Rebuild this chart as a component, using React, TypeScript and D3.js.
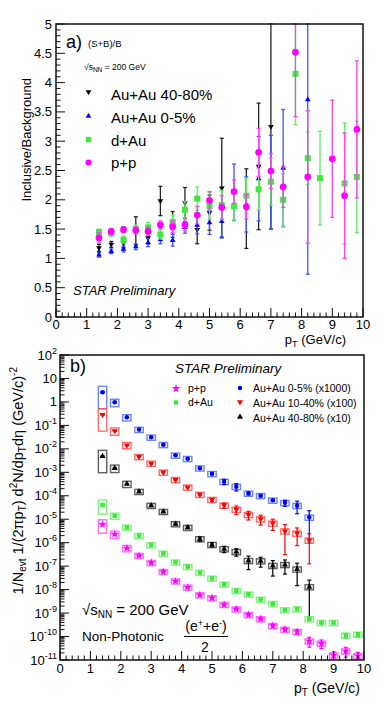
import React from "react";
import * as d3 from "d3";

const FONT = "'Liberation Sans', Arial, Helvetica, sans-serif";

// ---------- panel a) inclusive / background ----------
const ptA = [1.4, 1.8, 2.2, 2.6, 3.0, 3.4, 3.8, 4.2, 4.6, 5.0, 5.4, 5.8, 6.2, 6.6, 7.0, 7.4, 7.8, 8.2, 8.6, 9.0, 9.4, 9.8];

const ratioAuAu4080 = [1.18, 1.24, 1.26, 1.47, 1.35, 1.98, 1.58, 1.95, 1.49, 1.78, 2.2, null, 1.85, 2.57, 3.25, null, null, null, null, null, null, null];
const errAuAu4080 = [0.06, 0.05, 0.08, 0.24, 0.1, 0.25, 0.22, 0.26, 0.24, 0.3, 0.85, null, 0.68, 1.08, 1.75, null, null, null, null, null, null, null];

const ratioAuAu05 = [1.06, 1.12, 1.16, 1.2, 1.27, 1.32, 1.31, 1.53, 1.57, 1.61, 1.63, 2.13, 1.92, 2.36, 2.3, 2.54, null, 3.71, null, null, null, null];
const errAuAu05 = [0.04, 0.04, 0.05, 0.05, 0.07, 0.07, 0.1, 0.1, 0.15, 0.2, 0.26, 0.48, 0.47, 0.72, 0.8, 1.0, null, 2.98, null, null, null, null];

const ratioDAu = [1.45, 1.43, 1.32, 1.5, 1.53, 1.41, 1.62, 1.83, 2.02, 1.9, 1.91, 1.89, 2.07, 2.18, 2.31, 2.0, 4.15, 2.71, 2.37, null, 2.28, 2.39];
const errDAu = [0.05, 0.05, 0.06, 0.07, 0.08, 0.08, 0.12, 0.14, 0.2, 0.23, 0.25, 0.25, 0.3, 0.35, 0.4, 0.45, 0.87, 0.45, 0.8, null, 1.03, 0.95];

const ratioPP = [1.35, 1.46, 1.49, 1.48, 1.46, 1.57, 1.54, 1.57, 1.74, 1.99, 1.87, 2.14, 1.88, 2.81, 2.49, 2.22, 4.52, 2.39, null, 2.7, 2.07, 3.2];
const errPP = [0.09, 0.05, 0.05, 0.06, 0.07, 0.07, 0.1, 0.1, 0.15, 0.15, 0.2, 0.2, 0.21, 0.41, 0.3, 0.35, 1.1, 1.13, null, 1.0, 1.07, 1.17];

const yTicksA = [0, 0.5, 1, 1.5, 2, 2.5, 3, 3.5, 4, 4.5, 5];
const xTicks = [0, 1, 2, 3, 4, 5, 6, 7, 8, 9, 10];

// ---------- panel b) non-photonic electron spectra ----------
const ptB = [1.4, 1.8, 2.2, 2.6, 3.0, 3.4, 3.8, 4.2, 4.6, 5.0, 5.4, 5.8, 6.2, 6.6, 7.0, 7.4, 7.8, 8.2, 8.6, 9.0, 9.4, 9.8];

const yieldAuAu05 = [2.57, 0.96, 0.22, 0.066, 0.031, 0.015, 0.0053, 0.0038, 0.0015, 0.00087, 0.0004, 0.000245, 0.000127, 1.0e-4, 6.4e-5, 5.0e-5, 3.8e-5, 1.2e-5];
const statAuAu05 = [0.05, 0.05, 0.05, 0.05, 0.05, 0.05, 0.05, 0.05, 0.1, 0.1, 0.25, 0.35, 0.15, 0.1, 0.1, 0.3, 0.55, 0.92];

const yieldAuAu1040 = [0.285, 0.058, 0.0144, 0.0046, 0.0024, 0.001, 0.00048, 0.00023, 0.000113, 6.8e-5, 3.9e-5, 2.6e-5, 1.55e-5, 1.02e-5, 6.7e-6, 3.1e-6, 2.5e-6, 1.26e-6];
const statAuAu1040 = [0.05, 0.05, 0.05, 0.05, 0.05, 0.05, 0.05, 0.05, 0.1, 0.15, 0.25, 0.4, 0.4, 0.45, 0.5, 0.9, 0.7, 0.9];

const yieldAuAu4080 = [0.0048, 0.0015, 3.2e-4, 1.5e-4, 3.8e-5, 2.1e-5, 6.3e-6, 4.4e-6, 1.44e-6, 8.2e-7, 5.4e-7, 4.1e-7, 1.7e-7, 1.65e-7, 1.05e-7, 1.15e-7, 7.4e-8, 1.3e-8];
const statAuAu4080 = [0.05, 0.05, 0.05, 0.05, 0.05, 0.05, 0.1, 0.1, 0.2, 0.2, 0.3, 0.35, 0.58, 0.45, 0.64, 0.6, 0.8, 0.95];

const yieldDAu = [4.1e-5, 1.4e-5, 4.5e-6, 2.0e-6, 8e-7, 3.5e-7, 1.46e-7, 9.5e-8, 5.3e-8, 3.0e-8, 1.67e-8, 8.9e-9, 6.3e-9, 3.8e-9, 2.5e-9, 1.35e-9, 1.48e-9, 5.6e-10, 3.9e-10, 3.9e-10, 1.12e-10, 1.23e-10];
const statDAu = [0.05, 0.05, 0.05, 0.05, 0.05, 0.05, 0.05, 0.05, 0.05, 0.05, 0.05, 0.05, 0.05, 0.05, 0.05, 0.05, 0.1, 0.1, 0.1, 0.1, 0.2, 0.2];

const yieldPP = [6.0e-6, 2.3e-6, 5.8e-7, 2.8e-7, 1.4e-7, 5.8e-8, 2.3e-8, 1.25e-8, 5.9e-9, 4.4e-9, 2.3e-9, 1.47e-9, 8.5e-10, 5.6e-10, 2.9e-10, 2.0e-10, 1.6e-10, 6.4e-11, 5.1e-11, 1.6e-11, 2.4e-11, 1.5e-11];
const statPP = [0.05, 0.05, 0.05, 0.05, 0.05, 0.05, 0.05, 0.05, 0.05, 0.05, 0.1, 0.1, 0.1, 0.1, 0.15, 0.15, 0.2, 0.45, 0.4, 0.4, 0.45, 0.4];

// relative systematic uncertainty (boxes)
const sysAuAu = [0.8, 0.35, 0.3, 0.25, 0.25, 0.25, 0.25, 0.25, 0.25, 0.25, 0.25, 0.25, 0.25, 0.25, 0.25, 0.25, 0.25, 0.25];
const sysDAu = [0.6, 0.3, 0.25, 0.25, 0.25, 0.25, 0.25, 0.25, 0.25, 0.25, 0.25, 0.25, 0.25, 0.25, 0.25, 0.25, 0.25, 0.25, 0.25, 0.25, 0.25, 0.25];
const sysPP = [0.58, 0.35, 0.3, 0.25, 0.25, 0.25, 0.25, 0.25, 0.25, 0.25, 0.25, 0.25, 0.25, 0.25, 0.25, 0.25, 0.25, 0.25, 0.25, 0.25, 0.25, 0.25];

const decadesB = [2, 1, 0, -1, -2, -3, -4, -5, -6, -7, -8, -9, -10, -11];

const xA = d3.scaleLinear().domain([0, 10]).range([56, 363]);
const yA = d3.scaleLinear().domain([0, 5]).range([317, 24]);
const xB = d3.scaleLinear().domain([0, 10]).range([60, 364]);
const yB = d3.scaleLog().domain([1e-11, 1e2]).range([660, 355]);

const sym = (type: d3.SymbolType, size: number) => d3.symbol().type(type).size(size)() as string;

const BLACK = "#000000";
const BLUE = "#0000ff";
const RED = "#ff0000";
const GREEN = "#3ee83e";
const MAGENTA = "#ff00ff";

function Marker({ shape, x, y, color, s }: any) {
  if (shape === "circle") return <circle cx={x} cy={y} r={Math.sqrt(s / Math.PI)} fill={color} />;
  if (shape === "square") {
    const h = Math.sqrt(s) / 2;
    return <rect x={x - h} y={y - h} width={2 * h} height={2 * h} fill={color} />;
  }
  if (shape === "star") return <path d={sym(d3.symbolStar, s)} transform={`translate(${x},${y})`} fill={color} />;
  const rot = shape === "down" ? 180 : 0;
  return <path d={sym(d3.symbolTriangle, s)} transform={`translate(${x},${y}) rotate(${rot})`} fill={color} />;
}

function ErrBar({ x, y1, y2, color, cap = 2, w = 1.3 }: any) {
  return (
    <g stroke={color} strokeWidth={w}>
      <line x1={x} x2={x} y1={y1} y2={y2} />
      <line x1={x - cap} x2={x + cap} y1={y1} y2={y1} />
      <line x1={x - cap} x2={x + cap} y1={y2} y2={y2} />
    </g>
  );
}

function AxisTicksX({ x, yBase }: any) {
  const minor = d3.range(0, 10.001, 0.2);
  return (
    <g stroke="#111" strokeWidth={1}>
      {minor.map((v, i) => {
        const major = Math.abs(v - Math.round(v)) < 1e-6;
        return <line key={i} x1={x(v)} x2={x(v)} y1={yBase} y2={yBase - (major ? 9 : 4.5)} />;
      })}
    </g>
  );
}

export default function App() {
  const seriesA = [
    { vals: ratioAuAu4080, errs: errAuAu4080, color: BLACK, bar: "#222", shape: "down", s: 14 },
    { vals: ratioAuAu05, errs: errAuAu05, color: BLUE, bar: "#3a55ff", shape: "up", s: 14 },
    { vals: ratioDAu, errs: errDAu, color: GREEN, bar: "#5fee5f", shape: "square", s: 36 },
    { vals: ratioPP, errs: errPP, color: MAGENTA, bar: "#ff3cff", shape: "circle", s: 36 },
  ];

  const seriesB = [
    { vals: yieldAuAu05, stat: statAuAu05, sys: sysAuAu, color: BLUE, box: "#5070ff", shape: "circle", s: 16 },
    { vals: yieldAuAu1040, stat: statAuAu1040, sys: sysAuAu, color: RED, box: "#ff5050", shape: "down", s: 16 },
    { vals: yieldAuAu4080, stat: statAuAu4080, sys: sysAuAu, color: BLACK, box: "#444", shape: "up", s: 16 },
    { vals: yieldDAu, stat: statDAu, sys: sysDAu, color: GREEN, box: "#6cf06c", shape: "square", s: 20 },
    { vals: yieldPP, stat: statPP, sys: sysPP, color: MAGENTA, box: "#ff55ff", shape: "star", s: 22 },
  ];

  const yMinorA = d3.range(0, 5.0001, 0.1);

  const logTicks: { v: number; major: boolean }[] = [];
  for (let k = -11; k <= 2; k++) {
    logTicks.push({ v: Math.pow(10, k), major: true });
    if (k < 2) for (let m = 2; m <= 9; m++) logTicks.push({ v: m * Math.pow(10, k), major: false });
  }

  return (
    <svg width={382} height={701} style={{ position: "absolute", left: 0, top: 0, display: "block" }} fontFamily={FONT}>
      <rect width={382} height={701} fill="#fff" />
      <defs>
        <clipPath id="clipA">
          <rect x={56} y={23} width={307} height={294} />
        </clipPath>
        <clipPath id="clipB">
          <rect x={60} y={355} width={304} height={305} />
        </clipPath>
      </defs>

      {/* ================= panel a ================= */}
      <g clipPath="url(#clipA)">
        {seriesA.map((s, si) => (
          <g key={si}>
            {ptA.map((p, i) => {
              const v = s.vals[i];
              const e = s.errs[i];
              if (v == null || e == null) return null;
              const lo = Math.max(0, v - e);
              const hi = Math.min(5, v + e);
              return (
                <g key={i}>
                  <ErrBar x={xA(p)} y1={yA(lo)} y2={yA(hi)} color={s.bar} />
                  <Marker shape={s.shape} x={xA(p)} y={yA(v)} color={s.color} s={s.s} />
                </g>
              );
            })}
          </g>
        ))}
      </g>

      <rect x={56} y={24} width={307} height={293} fill="none" stroke="#111" strokeWidth={1.5} />
      <AxisTicksX x={xA} yBase={317} />
      <g stroke="#111" strokeWidth={1}>
        {yMinorA.map((v, i) => {
          const major = Math.abs(v * 2 - Math.round(v * 2)) < 1e-6;
          return <line key={i} x1={56} x2={56 + (major ? 9 : 4.5)} y1={yA(v)} y2={yA(v)} />;
        })}
      </g>
      <g fontSize={13} fill="#000">
        {yTicksA.map((v) => (
          <text key={v} x={52} y={yA(v) + 4.5} textAnchor="end">{String(v)}</text>
        ))}
        {xTicks.map((v) => (
          <text key={v} x={xA(v)} y={329} textAnchor="middle">{v}</text>
        ))}
      </g>
      <text x={346} y={344} textAnchor="end" fontSize={13}>
        p<tspan dy={3} fontSize={9}>T</tspan><tspan dy={-3}> (GeV/c)</tspan>
      </text>
      <text transform="translate(31,78) rotate(-90)" textAnchor="end" fontSize={13}>Inclusive/Background</text>

      <text x={66} y={48} fontSize={18}>a)</text>
      <text x={88} y={47} fontSize={9.5}>(S+B)/B</text>
      <text x={84} y={70} fontSize={8.5}>
        √s<tspan dy={2} fontSize={6.5}>NN</tspan><tspan dy={-2}> = 200 GeV</tspan>
      </text>
      <g fontSize={15}>
        <Marker shape="down" x={88.5} y={92} color={BLACK} s={14} />
        <text x={111} y={100}>Au+Au 40-80%</text>
        <Marker shape="up" x={88.5} y={116} color={BLUE} s={14} />
        <text x={111} y={122.5}>Au+Au 0-5%</text>
        <Marker shape="square" x={88.5} y={139.5} color={GREEN} s={30} />
        <text x={111} y={146}>d+Au</text>
        <Marker shape="circle" x={88.5} y={162.5} color={MAGENTA} s={30} />
        <text x={111} y={168}>p+p</text>
      </g>
      <text x={73} y={295} fontSize={13} fontStyle="italic">STAR Preliminary</text>

      {/* ================= panel b ================= */}
      <g clipPath="url(#clipB)">
        {seriesB.map((s, si) => (
          <g key={si}>
            {s.vals.map((v, i) => {
              const p = ptB[i];
              const cx = xB(p);
              const st = s.stat[i];
              const sy = s.sys[i];
              const bTop = yB(v * (1 + sy));
              const bBot = yB(v * (1 - sy));
              const eTop = yB(v * (1 + st));
              const eBot = yB(Math.max(1e-12, v * (1 - st)));
              return (
                <g key={i}>
                  <rect x={cx - 4.2} y={bTop} width={8.4} height={bBot - bTop} fill="none" stroke={s.box} strokeWidth={1.4} strokeOpacity={0.85} />
                  <ErrBar x={cx} y1={eBot} y2={eTop} color={s.color} cap={2} w={1.2} />
                  <Marker shape={s.shape} x={cx} y={yB(v)} color={s.color} s={s.s} />
                </g>
              );
            })}
          </g>
        ))}
      </g>

      <rect x={60} y={355} width={304} height={305} fill="none" stroke="#111" strokeWidth={1.5} />
      <AxisTicksX x={xB} yBase={660} />
      <g stroke="#111" strokeWidth={1}>
        {logTicks.map((t, i) => (
          <line key={i} x1={60} x2={60 + (t.major ? 9 : 4.5)} y1={yB(t.v)} y2={yB(t.v)} />
        ))}
      </g>
      <g fontSize={13} fill="#000">
        {decadesB.map((k) => (
          <text key={k} x={57} y={yB(Math.pow(10, k)) + 4.5} textAnchor="end">
            {k === 0 ? "1" : k === 1 ? "10" : (
              <>
                10<tspan dy={-6} fontSize={9}>{k}</tspan>
              </>
            )}
          </text>
        ))}
        {xTicks.map((v) => (
          <text key={v} x={xB(v)} y={673} textAnchor="middle">{v}</text>
        ))}
      </g>
      <text x={360} y={693} textAnchor="end" fontSize={14}>
        p<tspan dy={3} fontSize={10}>T</tspan><tspan dy={-3}> (GeV/c)</tspan>
      </text>
      <text transform="translate(23,367) rotate(-90)" textAnchor="end" fontSize={14.5}>
        1/N<tspan dy={3} fontSize={10}>evt</tspan>
        <tspan dy={-3}> 1/(2πp</tspan>
        <tspan dy={3} fontSize={10}>T</tspan>
        <tspan dy={-3}>) d</tspan>
        <tspan dy={-6} fontSize={10}>2</tspan>
        <tspan dy={6}>N/dp</tspan>
        <tspan dy={3} fontSize={10}>T</tspan>
        <tspan dy={-3}>dη (GeV/c)</tspan>
        <tspan dy={-6} fontSize={10}>-2</tspan>
      </text>

      <text x={70} y={372} fontSize={18}>b)</text>
      <text x={175} y={373} fontSize={13.5} fontStyle="italic">STAR Preliminary</text>
      <g fontSize={10.5}>
        <Marker shape="star" x={176} y={388.5} color={MAGENTA} s={24} />
        <text x={188} y={392}>p+p</text>
        <Marker shape="square" x={176} y={402.5} color={GREEN} s={18} />
        <text x={188} y={406}>d+Au</text>
        <Marker shape="circle" x={240} y={388} color={BLUE} s={16} />
        <text x={253} y={392}>Au+Au 0-5% (x1000)</text>
        <Marker shape="down" x={240} y={402} color={RED} s={16} />
        <text x={253} y={406.5}>Au+Au 10-40% (x100)</text>
        <Marker shape="up" x={240} y={417} color={BLACK} s={16} />
        <text x={253} y={421.5}>Au+Au 40-80% (x10)</text>
      </g>

      <text x={82} y={615} fontSize={15}>
        √s<tspan dy={3} fontSize={10}>NN</tspan><tspan dy={-3}> = 200 GeV</tspan>
      </text>
      <text x={82} y={641} fontSize={13.5}>Non-Photonic</text>
      <text x={206} y={631} fontSize={14} textAnchor="middle">
        (e<tspan dy={-5} fontSize={9}>+</tspan><tspan dy={5}>+e</tspan><tspan dy={-5} fontSize={9}>-</tspan><tspan dy={5}>)</tspan>
      </text>
      <line x1={184} x2={228} y1={636.5} y2={636.5} stroke="#000" strokeWidth={1} />
      <text x={205} y={652} fontSize={14} textAnchor="middle">2</text>
    </svg>
  );
}
